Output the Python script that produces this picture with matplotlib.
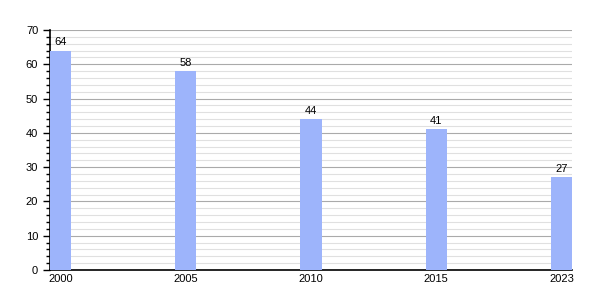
import numpy as np
import matplotlib.pyplot as plt
from matplotlib.ticker import MultipleLocator

plt.rcParams["font.family"] = ["Liberation Sans", "DejaVu Sans"]

years = ["2000", "2005", "2010", "2015", "2023"]
values = [64, 58, 44, 41, 27]

bar_w = 0.168
x = np.arange(len(years))

fig = plt.figure(figsize=(6, 3), dpi=100)
ax = fig.add_axes([50 / 600, 30 / 300, 522 / 600, 240 / 300])

ax.bar(x, values, width=bar_w, color="#9db4fb", zorder=3)
for xi, v in zip(x, values):
    ax.text(xi, v + 1, str(v), ha="center", va="bottom", fontsize=8, zorder=4)

ax.set_xlim(-bar_w / 2, len(years) - 1 + bar_w / 2)
ax.set_ylim(0, 70)
ax.set_xticks(x)
ax.set_xticklabels(years, fontsize=8)
ax.yaxis.set_major_locator(MultipleLocator(10))
ax.yaxis.set_minor_locator(MultipleLocator(2))
ax.tick_params(axis="y", labelsize=8, length=5, width=1)
ax.tick_params(axis="y", which="minor", length=3, width=1)
ax.tick_params(axis="x", length=0, pad=3)

ax.grid(axis="y", which="major", color="#aaaaaa", linewidth=0.8, zorder=1)
ax.grid(axis="y", which="minor", color="#e0e0e0", linewidth=0.8, zorder=1)

for s in ["top", "right"]:
    ax.spines[s].set_visible(False)
ax.spines["left"].set_linewidth(1.2)
ax.spines["bottom"].set_linewidth(1.2)

fig.savefig("out.png", dpi=100)
